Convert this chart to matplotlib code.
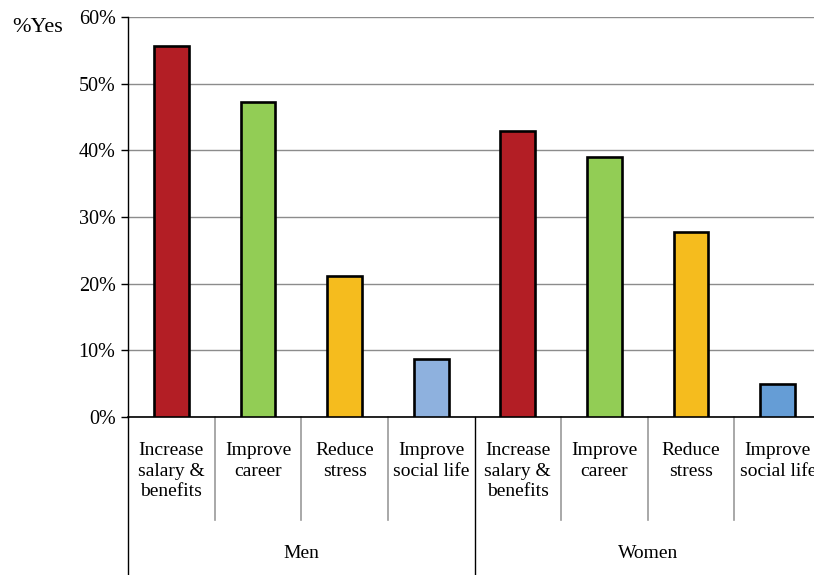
import matplotlib
matplotlib.use("Agg")
import matplotlib.pyplot as plt
from matplotlib.transforms import blended_transform_factory

plt.rcParams['font.family'] = ['Liberation Serif', 'DejaVu Serif']

groups = ["Men", "Women"]
categories = ["Increase\nsalary &\nbenefits", "Improve\ncareer", "Reduce\nstress", "Improve\nsocial life"]
men_values = [55.6, 47.2, 21.1, 8.7]
women_values = [42.9, 39.0, 27.7, 4.9]
men_colors = ["#B31E25", "#92CD55", "#F5BC1E", "#8EB1DE"]
women_colors = ["#B31E25", "#92CD55", "#F5BC1E", "#659DD6"]
yticks = [0, 10, 20, 30, 40, 50, 60]
ytick_labels = ["0%", "10%", "20%", "30%", "40%", "50%", "60%"]

W, H = 814, 575
fig = plt.figure(figsize=(W / 100, H / 100), dpi=100)
left, right, top, bottom = 128, 821, 17, 417
ax = fig.add_axes([left / W, (H - bottom) / H, (right - left) / W, (bottom - top) / H])

values = men_values + women_values
colors = men_colors + women_colors
x = list(range(len(values)))
ax.bar(x, values, width=0.4, color=colors, edgecolor="black", linewidth=1.9, zorder=3)

ax.set_xlim(-0.5, len(values) - 0.5)
ax.set_ylim(0, 60)
ax.set_yticks(yticks)
ax.set_yticklabels(ytick_labels, fontsize=14.5)
ax.yaxis.grid(True, color="#8c8c8c", linewidth=1.0, zorder=0)
ax.set_xticks([])
ax.tick_params(axis="y", direction="out", length=5, width=1, pad=4)

for side in ("top", "right"):
    ax.spines[side].set_visible(False)
ax.spines["left"].set_color("black")
ax.spines["bottom"].set_color("black")
ax.spines["left"].set_linewidth(1.0)
ax.spines["bottom"].set_linewidth(1.2)

trans = blended_transform_factory(ax.transData, ax.transAxes)
px = 1.0 / (bottom - top)

# category labels and separators
n_cat = len(categories)
for i in range(len(values)):
    ax.text(i, -25 * px, categories[i % n_cat], transform=trans, ha="center", va="top",
            fontsize=14, linespacing=1.28, clip_on=False)
for i in range(1, len(values)):
    if i % n_cat == 0:
        continue
    ax.plot([i - 0.5, i - 0.5], [0, -103 * px], transform=trans, color="#9a9a9a",
            linewidth=1.2, clip_on=False)

# group labels and separators
for g, name in enumerate(groups):
    center = g * n_cat + (n_cat - 1) / 2
    ax.text(center, -136 * px, name, transform=trans, ha="center", va="center",
            fontsize=14, clip_on=False)
for g in range(len(groups) + 1):
    xs = g * n_cat - 0.5
    ax.plot([xs, xs], [0, -160 * px], transform=trans, color="black",
            linewidth=1.0, clip_on=False)

fig.text(12 / W, 1 - 28 / H, "%Yes", fontsize=16, ha="left", va="center")

fig.savefig("out.png", dpi=100)
